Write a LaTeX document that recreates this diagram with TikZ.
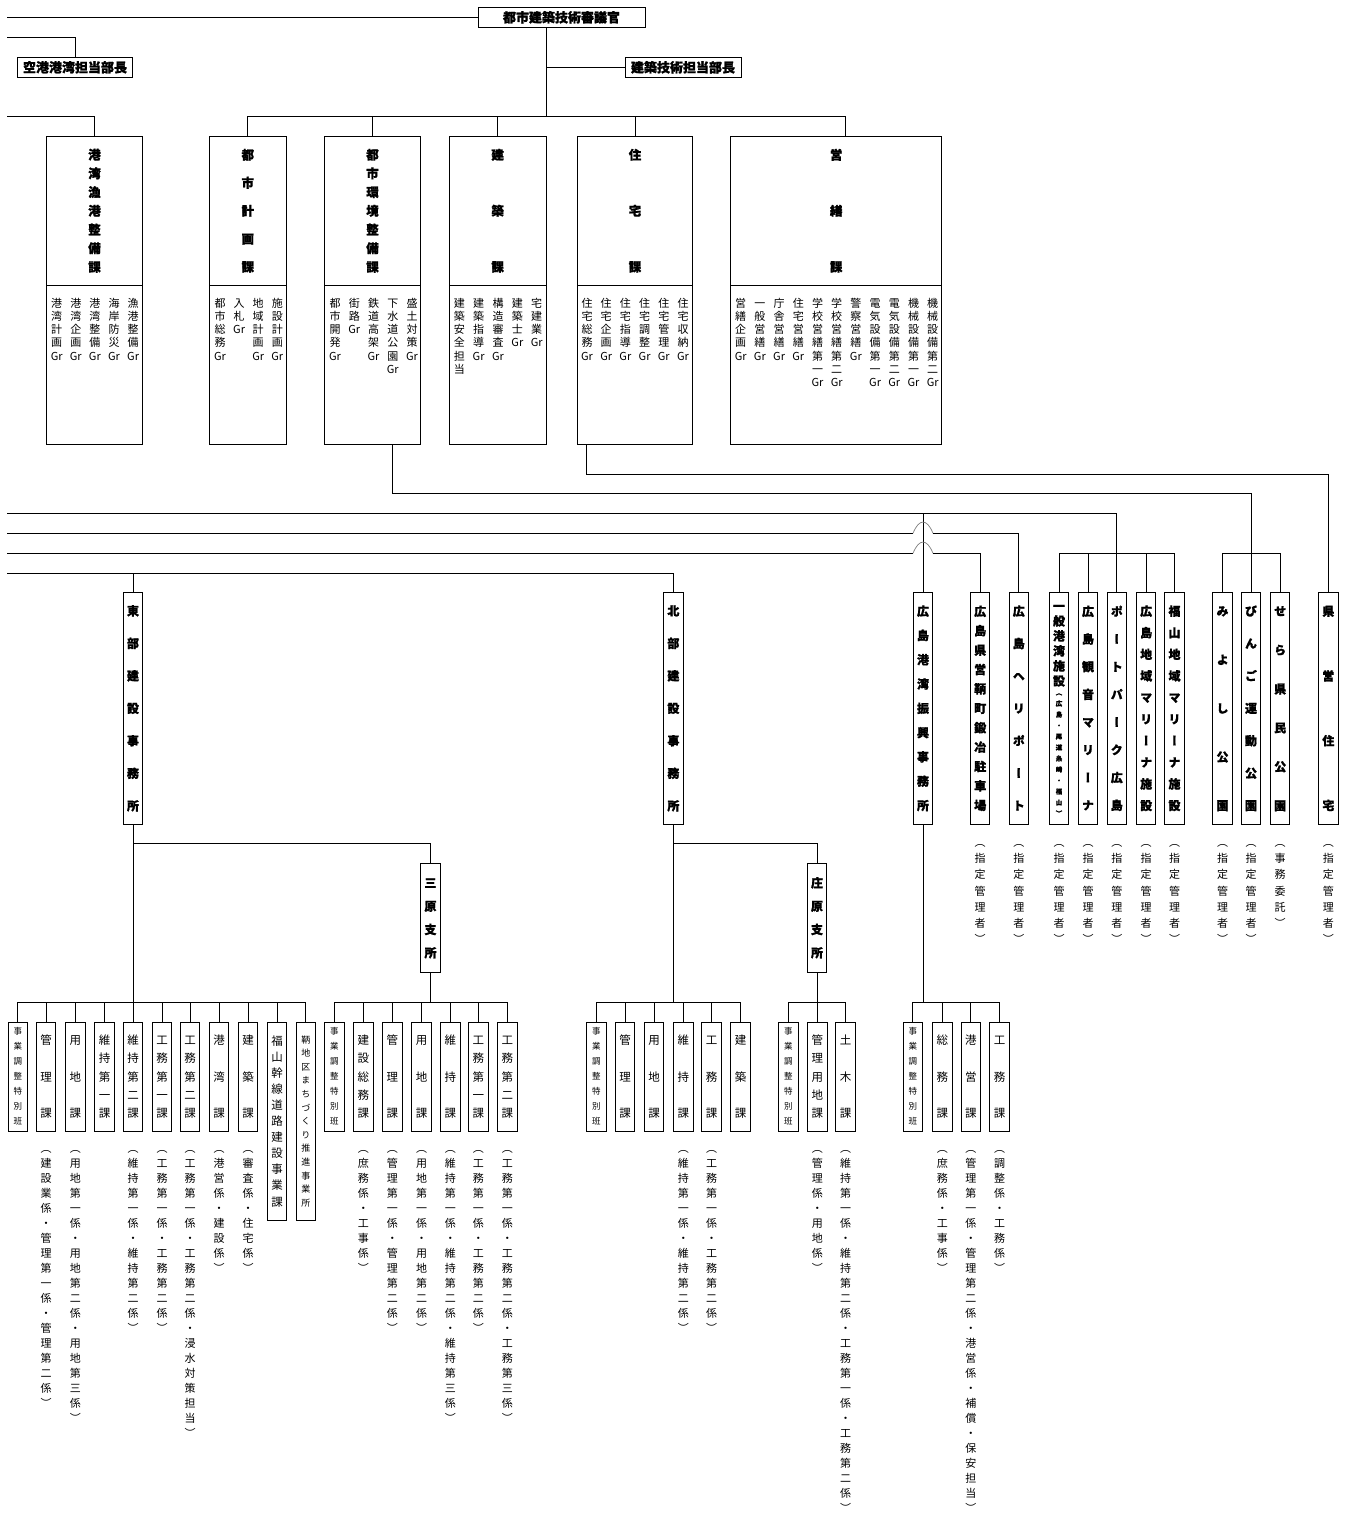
\documentclass[tikz,border=0pt]{standalone}
\usepackage{fontspec}
\setmainfont{Noto Sans CJK JP}[RawFeature=+vert, BoldFeatures={FakeBold=1.2}]
\usepackage{tikz}

% vertical text: one item per line, fixed pitch
\ExplSyntaxOn
\tl_new:N \l_tate_tl
\NewDocumentCommand \tate { O{15pt} m }
  {
    \tl_set:No \l_tate_tl {#2}
    \vbox
      {
        \baselineskip=#1 \relax
        \lineskiplimit=-\maxdimen
        \lineskip=0pt \relax
        \tl_map_inline:Nn \l_tate_tl
          { \hbox_to_wd:nn {0pt} { \hss \vrule~width~0pt~height~.88em~depth~.12em \relax ##1 \hss } }
      }
  }
\ExplSyntaxOff

\tikzset{
  line/.style={line width=0.9pt},
  hop/.style={line width=0.7pt, gray},
  hbx/.style={draw, line width=1pt, outer sep=0pt, inner sep=0pt, minimum height=20pt, font=\bfseries\fontsize{13}{13}\selectfont},
  kabox/.style={draw, line width=1pt, outer sep=0pt, inner sep=0pt, minimum height=149pt, font=\bfseries\fontsize{12.5}{12.5}\selectfont},
  grbox/.style={draw, line width=1pt, outer sep=0pt, inner sep=0pt, minimum height=158.7pt},
  grtext/.style={inner sep=0pt, anchor=north, font=\fontsize{11}{11}\selectfont},
  jimu/.style={draw, line width=1pt, outer sep=0pt, inner sep=0pt, minimum width=19.5pt, minimum height=232pt, font=\bfseries\fontsize{12}{12}\selectfont},
  shisho/.style={jimu, minimum height=109pt},
  ka/.style={draw, line width=1pt, outer sep=0pt, inner sep=0pt, minimum width=19.5pt, minimum height=108.7pt, font=\fontsize{11.5}{11.5}\selectfont},
  kataka/.style={ka, minimum height=197.7pt},
  anno/.style={inner sep=0pt, anchor=north, font=\fontsize{11}{11}\selectfont},
}

\begin{document}
\begin{tikzpicture}[x=1pt, y=-1pt]
    \useasboundingbox (0,0) rectangle (1350,1513);

    % Top: councillor and directors
    \node[hbx, minimum width=167pt] (shingikan) at (561.5,17.3) {都市建築技術審議官};
    \node[hbx, minimum width=115pt] (kuko) at (75,67.3) {空港港湾担当部長};
    \node[hbx, minimum width=116pt] (kenchikutanto) at (683,67.3) {建築技術担当部長};

    \coordinate (t0) at (7,17.3);
    \coordinate (k0) at (7,37.7);
    \coordinate (l0) at (7,116);
    \coordinate (tb) at (0,116);
    \draw[line] (t0) -- (shingikan.west);
    \draw[line] (k0) -| (kuko.north);
    \draw[line] ([xshift=-15.5pt]shingikan.south) -- ([xshift=-15.5pt]shingikan.south |- tb);
    \draw[line] ([xshift=-15.5pt]shingikan.south |- kenchikutanto) -- (kenchikutanto.west);

    % Sections of the main office (title part and group part)
    \foreach \nm/\x/\w/\t/\p in {kowan/46.3/96.4/港湾漁港整備課/18.7,
                                 toshikei/209.3/77/都市計画課/28,
                                 kankyo/324.3/96.4/都市環境整備課/18.7,
                                 kenchiku/449.3/96.7/建築課/56,
                                 jutaku/577.7/114.6/住宅課/56,
                                 eizen/730.7/211/営繕課/56} {
        \node[kabox, minimum width=\w pt, anchor=north west] (\nm) at (\x,136.3) {\tate[\p pt]{\t}};
        \node[grbox, minimum width=\w pt, anchor=north] (\nm-l) at (\nm.south) {};
    }

    % Groups
    \foreach \t [count=\i from 0] in {港湾計画{Gr},港湾企画{Gr},港湾整備{Gr},海岸防災{Gr},漁港整備{Gr}}
        \node[grtext] (kowanG\i) at ({56.7+19.1*\i},297.2) {\tate[13.3pt]{\t}};
    \foreach \t [count=\i from 0] in {都市総務{Gr},入札{Gr},地域計画{Gr},施設計画{Gr}}
        \node[grtext] (toshikeiG\i) at ({220+19.1*\i},297.2) {\tate[13.3pt]{\t}};
    \foreach \t [count=\i from 0] in {都市開発{Gr},街路{Gr},鉄道高架{Gr},下水道公園{Gr},盛土対策{Gr}}
        \node[grtext] (kankyoG\i) at ({335+19.25*\i},297.2) {\tate[13.3pt]{\t}};
    \foreach \t [count=\i from 0] in {建築安全担当,建築指導{Gr},構造審査{Gr},建築士{Gr},宅建業{Gr}}
        \node[grtext] (kenchikuG\i) at ({459.3+19.35*\i},297.2) {\tate[13.3pt]{\t}};
    \foreach \t [count=\i from 0] in {住宅総務{Gr},住宅企画{Gr},住宅指導{Gr},住宅調整{Gr},住宅管理{Gr},住宅収納{Gr}}
        \node[grtext] (jutakuG\i) at ({587+19.2*\i},297.2) {\tate[13.3pt]{\t}};
    \foreach \t [count=\i from 0] in {営繕企画{Gr},一般営繕{Gr},庁舎営繕{Gr},住宅営繕{Gr},学校営繕第一{Gr},学校営繕第二{Gr},
                                      警察営繕{Gr},電気設備第一{Gr},電気設備第二{Gr},機械設備第一{Gr},機械設備第二{Gr}}
        \node[grtext] (eizenG\i) at ({740.7+19.2*\i},297.2) {\tate[13.3pt]{\t}};

    % Bus to the sections
    \draw[line] (l0) -| (kowan.north);
    \draw[line] (toshikei.north) |- ([xshift=9.1pt]eizen.north |- tb) -- ([xshift=9.1pt]eizen.north);
    \foreach \nm in {kankyo,kenchiku,jutaku}
        \draw[line] (\nm.north) -- (\nm.north |- tb);

    % Offices and facilities
    \foreach \nm/\x/\t/\p in {tobu/133/東部建設事務所/32.5,
                              hokubu/673.4/北部建設事務所/32.5,
                              shinko/923/広島港湾振興事務所/24.3,
                              tomo/980.2/広島県営鞆町鍛冶駐車場/19.4,
                              heli/1018.8/広島ヘリポート/32.4,
                              kannon/1088/広島観音マリーナ/27.7,
                              portpark/1116.8/ポートパーク広島/27.7,
                              hiromarina/1146.2/広島地域マリーナ施設/21.6,
                              fukumarina/1174.5/福山地域マリーナ施設/21.6,
                              miyoshi/1222.5/みよし公園/48.6,
                              bingo/1251/びんご運動公園/32.4,
                              sera/1280.2/せら県民公園/38.9,
                              kenei/1328.3/県営住宅/64.8}
        \node[jimu] (\nm) at (\x,708.3) {\tate[\p pt]{\t}};
    \node[jimu] (kowanshisetsu) at (1059,708.3) {\vbox{\offinterlineskip
        \tate[15pt]{一般港湾施設}\vskip2.3pt
        \hbox{\fontsize{6.5}{6.5}\selectfont\tate[11pt]{（広島・尾道糸崎・福山）}}}};

    % Managers of the facilities
    \coordinate (annoA) at (0,836.6);
    \foreach \nm in {tomo,heli,kowanshisetsu,kannon,portpark,hiromarina,fukumarina,miyoshi,bingo,kenei}
        \node[anno] (\nm-kanri) at (\nm.south |- annoA) {\tate[16.2pt]{（指定管理者）}};
    \node[anno] (sera-itaku) at (sera.south |- annoA) {\tate[16.2pt]{（事務委託）}};

    % Lines to offices and facilities
    \coordinate (jl) at (0,474.3);
    \coordinate (kl) at (0,493.3);
    \coordinate (l1) at (7,513.3);
    \coordinate (l2) at (7,533.3);
    \coordinate (l3) at (7,553.3);
    \coordinate (l4) at (7,573.3);
    \coordinate (mb) at (0,553.3);
    \draw[line] ([xshift=8.3pt]jutaku-l.south west) |- (kenei.north |- jl) -- (kenei.north);
    \draw[line] ([xshift=-28.2pt]kankyo-l.south east) |- (bingo.north |- kl) -- (bingo.north);
    \draw[line] (miyoshi.north) |- (sera.north |- mb) -- (sera.north);
    \draw[line] (l1) -| (portpark.north);
    \draw[line] (kowanshisetsu.north) |- (fukumarina.north |- mb) -- (fukumarina.north);
    \foreach \nm in {kannon,hiromarina}
        \draw[line] (\nm.north) -- (\nm.north |- mb);
    \draw[line] (shinko.north |- l1) -- (shinko.north);
    \path (shinko.north |- l2) coordinate (x2) (shinko.north |- l3) coordinate (x3);
    \draw[line] (l2) -- ([xshift=-10pt]x2);
    \draw[hop] ([xshift=-10pt]x2) .. controls +(6,-15) and +(-6,-15) .. ([xshift=10pt]x2);
    \draw[line] ([xshift=10pt]x2) -| (heli.north);
    \draw[line] (l3) -- ([xshift=-10pt]x3);
    \draw[hop] ([xshift=-10pt]x3) .. controls +(6,-15) and +(-6,-15) .. ([xshift=10pt]x3);
    \draw[line] ([xshift=10pt]x3) -| (tomo.north);
    \draw[line] (l4) -| (hokubu.north);
    \draw[line] (tobu.north |- l4) -- (tobu.north);

    % Branch offices
    \node[shisho] (mihara) at (430.5,917.8) {\tate[23.3pt]{三原支所}};
    \node[shisho] (shobara) at (817,917.8) {\tate[23.3pt]{庄原支所}};

    % Divisions
    \foreach \nm/\x in {tjigyo/17.8, mjigyo/334.3, hjigyo/596.3, sjigyo/788.3, kjigyo/912.8}
        \node[ka, font=\fontsize{8.5}{8.5}\selectfont] (\nm) at (\x,1076.7) {\tate[15pt]{事業調整特別班}};
    \foreach \nm/\x/\t/\p in {tkanri/46.2/管理課/36.2, tyochi/75.3/用地課/36.2, tiji1/104.5/維持第一課/18.1,
                              tiji2/133.2/維持第二課/18.1, tkomu1/162/工務第一課/18.1, tkomu2/190.2/工務第二課/18.1,
                              tkowan/219.2/港湾課/36.2, tkenchiku/248.2/建築課/36.2,
                              msomu/363.3/建設総務課/18.1, mkanri/392.3/管理課/36.2, myochi/421.7/用地課/36.2,
                              miji/450.3/維持課/36.2, mkomu1/478.3/工務第一課/18.1, mkomu2/507.3/工務第二課/18.1,
                              hkanri/625/管理課/36.2, hyochi/654/用地課/36.2, hiji/683.3/維持課/36.2,
                              hkomu/711.7/工務課/36.2, hkenchiku/740.7/建築課/36.2,
                              skanri/817.3/管理用地課/18.1, sdoboku/845.7/土木課/36.2,
                              ksomu/942.3/総務課/36.2, kkoei/970.8/港営課/36.2, kkomu/999.5/工務課/36.2}
        \node[ka] (\nm) at (\x,1076.7) {\tate[\p pt]{\t}};
    \node[kataka] (tfukuyama) at (277,1121.2) {\tate[16.1pt]{福山幹線道路建設事業課}};
    \node[kataka, font=\fontsize{9}{9}\selectfont] (ttomo) at (305.8,1121.2) {\tate[13.6pt]{鞆地区まちづくり推進事業所}};

    % Sub-sections of the divisions
    \coordinate (annoB) at (0,1142.8);
    \foreach \nm/\t in {tkanri/（建設業係・管理第一係・管理第二係）,
                        tyochi/（用地第一係・用地第二係・用地第三係）,
                        tiji2/（維持第一係・維持第二係）,
                        tkomu1/（工務第一係・工務第二係）,
                        tkomu2/（工務第一係・工務第二係・浸水対策担当）,
                        tkowan/（港営係・建設係）,
                        tkenchiku/（審査係・住宅係）,
                        msomu/（庶務係・工事係）,
                        mkanri/（管理第一係・管理第二係）,
                        myochi/（用地第一係・用地第二係）,
                        miji/（維持第一係・維持第二係・維持第三係）,
                        mkomu1/（工務第一係・工務第二係）,
                        mkomu2/（工務第一係・工務第二係・工務第三係）,
                        hiji/（維持第一係・維持第二係）,
                        hkomu/（工務第一係・工務第二係）,
                        skanri/（管理係・用地係）,
                        sdoboku/（維持第一係・維持第二係・工務第一係・工務第二係）,
                        ksomu/（庶務係・工事係）,
                        kkoei/（管理第一係・管理第二係・港営係・補償・保安担当）,
                        kkomu/（調整係・工務係）}
        \node[anno] (\nm-kakari) at (\nm.south |- annoB) {\tate[15pt]{\t}};

    % Lines to branch offices and divisions
    \coordinate (busY) at (0,1002.7);
    \draw[line] (tobu.south) -- (tobu.south |- busY);
    \draw[line] ([yshift=-19pt]tobu.south) -| (mihara.north);
    \draw[line] (mihara.south) -- (mihara.south |- busY);
    \draw[line] (hokubu.south) -- (hokubu.south |- busY);
    \draw[line] ([yshift=-19pt]hokubu.south) -| (shobara.north);
    \draw[line] (shobara.south) -- (shobara.south |- busY);
    \draw[line] (shinko.south) -- (shinko.south |- busY);
    \foreach \a/\b in {tjigyo/ttomo, mjigyo/mkomu2, hjigyo/hkenchiku, sjigyo/sdoboku, kjigyo/kkomu}
        \draw[line] (\a.north) |- (\b.north |- busY) -- (\b.north);
    \foreach \nm in {tkanri,tyochi,tiji1,tiji2,tkomu1,tkomu2,tkowan,tkenchiku,tfukuyama,
                     msomu,mkanri,myochi,miji,mkomu1,
                     hkanri,hyochi,hiji,hkomu,skanri,ksomu,kkoei}
        \draw[line] (\nm.north) -- (\nm.north |- busY);
\end{tikzpicture}
\end{document}
